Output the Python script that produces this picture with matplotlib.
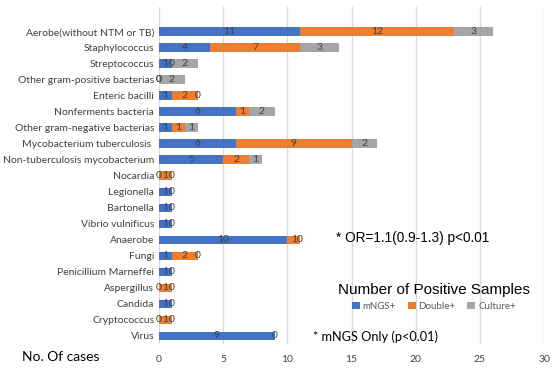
import matplotlib.pyplot as plt
import numpy as np

categories = ['Aerobe(without NTM or TB)', 'Staphylococcus', 'Streptococcus',
              'Other gram-positive bacterias', 'Enteric bacilli', 'Nonferments bacteria',
              'Other gram-negative bacterias', 'Mycobacterium tuberculosis ',
              'Non-tuberculosis mycobacterium', 'Nocardia', 'Legionella', 'Bartonella',
              'Vibrio vulnificus', 'Anaerobe', 'Fungi', 'Penicillium Marneffei',
              'Aspergillus', 'Candida', 'Cryptococcus', 'Virus']
mngs    = [11, 4, 1, 0, 1, 6, 1, 6, 5, 0, 1, 1, 1, 10, 1, 1, 0, 1, 0, 9]
double  = [12, 7, 0, 0, 2, 1, 1, 9, 2, 1, 0, 0, 0, 1, 2, 0, 1, 0, 1, 0]
culture = [3, 3, 2, 2, 0, 2, 1, 2, 1, 0, None, None, None, 0, 0, None, 0, None, 0, None]

plt.rcParams['font.family'] = ['Lato', 'DejaVu Sans']

fig = plt.figure(figsize=(5.54, 3.69), dpi=100)
ax = fig.add_axes([159/554, 1-344/369, (544-159)/554, (344-7)/369])

y = np.arange(len(categories))
cul = np.array([c if c is not None else 0 for c in culture], dtype=float)
m = np.array(mngs, dtype=float)
d = np.array(double, dtype=float)
h = 0.55
b1 = ax.barh(y, m, height=h, color='#4472C4', label='mNGS+', zorder=3)
b2 = ax.barh(y, d, left=m, height=h, color='#ED7D31', label='Double+', zorder=3)
b3 = ax.barh(y, cul, left=m + d, height=h, color='#A5A5A5', label='Culture+', zorder=3)

for i in range(len(categories)):
    kw = dict(ha='center', va='center', fontsize=7.5, color='#404040', zorder=4)
    ax.text(m[i] / 2, y[i], str(mngs[i]), **kw)
    ax.text(m[i] + d[i] / 2, y[i], str(double[i]), **kw)
    if culture[i] is not None:
        ax.text(m[i] + d[i] + cul[i] / 2, y[i], str(culture[i]), **kw)

ax.set_xlim(0, 30)
ax.set_xticks(range(0, 31, 5))
ax.set_ylim(19.5, -1.55)
ax.set_yticks(y)
ax.set_yticklabels(categories, fontsize=7.5, color='#404040')
ax.tick_params(axis='both', length=0)
ax.tick_params(axis='x', labelsize=7.5, labelcolor='#404040', pad=8)
ax.grid(axis='x', color='#D9D9D9', linewidth=1, zorder=0)
for s in ax.spines.values():
    s.set_visible(False)

fig.text(336/554, 1-238/369, '* OR=1.1(0.9-1.3) p<0.01', fontsize=9.8,
         family='Liberation Sans', va='center', ha='left')
fig.text(313/554, 1-337/369, '* mNGS Only (p<0.01)', fontsize=9.2, va='center', ha='left')
fig.text(22/554, 1-357/369, 'No. Of cases', fontsize=10, va='center', ha='left')

leg = fig.legend(handles=[b1, b2, b3], loc='center', bbox_to_anchor=(434/554, 1-297/369),
                 ncol=3, frameon=False, fontsize=7, handlelength=0.8, handleheight=0.8,
                 handletextpad=0.3, columnspacing=1.2, title='Number of Positive Samples',
                 title_fontproperties={'family': 'Liberation Sans', 'size': 11})
for t in leg.get_texts():
    t.set_color('#595959')

plt.savefig('out.png')
